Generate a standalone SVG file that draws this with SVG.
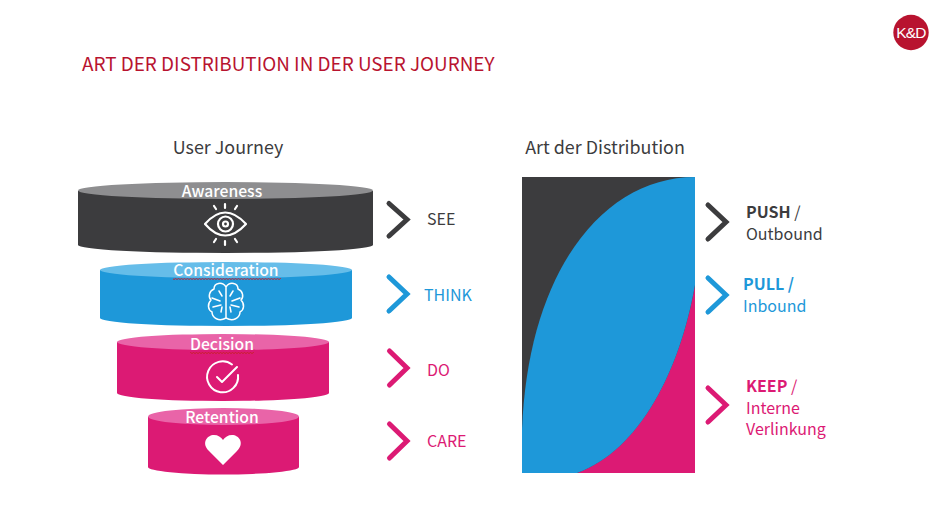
<svg xmlns="http://www.w3.org/2000/svg" width="944" height="525" viewBox="0 0 944 525">
<style>
text{font-family:"Noto Sans CJK SC","Noto Sans",sans-serif}
.t{font-size:18.9px}
.h{font-size:17.9px;fill:#3c3c3e}
.w{font-size:15.7px;fill:#fff;text-anchor:middle;font-weight:500}
.l{font-size:16px}
.b{font-weight:700}
.chev{fill:none;stroke-width:5;stroke-linecap:round;stroke-linejoin:miter}
.ic{fill:none;stroke:#fff;stroke-linecap:round;stroke-linejoin:round}
.dk{fill:#3c3c3e}.bl{fill:#1e98d9}.pk{fill:#dc1a74}
.sdk{stroke:#3c3c3e}.sbl{stroke:#1e98d9}.spk{stroke:#dc1a74}
</style>
<defs><pattern id="squiggle" patternUnits="userSpaceOnUse" width="3" height="2"><path d="M0 1.500L1.500 .5L3 1.500" fill="none" stroke="#c8202a" stroke-width="1"/></pattern></defs>
<rect width="944" height="525" fill="#fff"/>
<g id="logo"><circle cx="911" cy="32.500" r="17.700" fill="#b8132f"/><text x="911" y="38" font-size="15.500" letter-spacing="-.8" fill="#fff" text-anchor="middle" style="font-family:'Liberation Sans',sans-serif">K&amp;D</text></g>
<text id="title" x="82" y="71" class="t" fill="#b8132f">ART DER DISTRIBUTION IN DER USER JOURNEY</text>
<text x="228" y="154" class="h" text-anchor="middle">User Journey</text>
<text x="605" y="154" class="h" text-anchor="middle">Art der Distribution</text>
<g id="awareness">
<path class="dk" d="M78 191V245A147.500 8 0 0 0 373 245V191Z"/>
<ellipse cx="225.500" cy="190.500" rx="147.500" ry="8.500" fill="#8e8e90"/>
<text x="222" y="197" class="w">Awareness</text>
<g class="ic" stroke-width="2.200"><path d="M205 224Q225 201 246 224Q225 247 205 224Z"/><circle cx="225.500" cy="224" r="7.500"/><circle cx="225.500" cy="224" r="2.500"/><path d="M225 204V208M214 206L216 209M237 206L235 209M225 241V245M214 242L216 239M237 242L235 239"/></g>
</g>
<g id="consideration">
<path class="bl" d="M100 270V318A126 8 0 0 0 352 318V270Z"/>
<ellipse cx="226" cy="270" rx="126" ry="8" fill="#66bde9"/>
<text x="226" y="276" class="w">Consideration</text>
<rect x="173" y="278" width="108" height="2" fill="url(#squiggle)"/>
<g class="ic" stroke-width="1.500"><path d="M226 287C222 281 214 283 214 289C209 291 208 297 211 300C207 304 208 310 212 312C212 318 219 322 226 318C233 322 240 318 240 312C244 310 245 304 241 300C244 297 243 291 238 289C238 283 230 281 226 287V318"/><path d="M212 298L220 301M240 298L232 301M213 307L221 305M239 307L231 305M219 291L222 296M233 291L230 296M221 312L222 307M231 312L230 307"/></g>
</g>
<g id="decision">
<path class="pk" d="M117 342V393A106 8 0 0 0 329 393V342Z"/>
<ellipse cx="223" cy="342" rx="106" ry="8" fill="#e964a8"/>
<text x="222" y="350" class="w">Decision</text>
<rect x="190" y="352" width="64" height="2" fill="url(#squiggle)"/>
<g class="ic" stroke-width="2"><path d="M232 364.500A15.500 15.500 0 1 0 238 375"/><path d="M217 377L222 382L237 367"/></g>
</g>
<g id="retention">
<path class="pk" d="M148 417V467A75.500 7.500 0 0 0 299 467V417Z"/>
<ellipse cx="223.500" cy="416.500" rx="75.500" ry="8.500" fill="#e964a8"/>
<text x="222" y="423" class="w">Retention</text>
<path fill="#fff" d="M223 465L209 451C201 443 207 435 214 435C218 435 221 437 223 440C225 437 228 435 232 435C239 435 245 443 237 451Z"/>
</g>
<g id="connectors">
<path class="chev sdk" d="M389 203.500L407 219.500L389 236"/>
<path class="chev sbl" d="M389 277L407 294L389 311"/>
<path class="chev spk" d="M389.500 351L407 368L389.500 385"/>
<path class="chev spk" d="M389.500 424L407 441L389.500 458"/>
<path class="chev sdk" d="M708 205L726 222L708 239"/>
<path class="chev sbl" d="M708 278L726 295L708 312"/>
<path class="chev spk" d="M708 388L726 405L708 422"/>
</g>
<g id="labels" class="l">
<text x="427" y="225" class="dk">SEE</text>
<text x="424" y="301" class="bl">THINK</text>
<text x="427" y="376" class="pk">DO</text>
<text x="427" y="447" class="pk">CARE</text>
<text x="746" y="218" class="dk"><tspan class="b">PUSH</tspan> /</text>
<text x="746" y="240" class="dk">Outbound</text>
<text x="743" y="290" class="bl b">PULL /</text>
<text x="743" y="312" class="bl">Inbound</text>
<text x="746" y="392" class="pk"><tspan class="b">KEEP</tspan> /</text>
<text x="746" y="414" class="pk">Interne</text>
<text x="746" y="435" class="pk">Verlinkung</text>
</g>
<g id="distribution">
<rect x="522" y="177" width="173" height="296" class="dk"/>
<path class="pk" d="M577 473C640 450 680 370 695 285V473Z"/>
<path class="bl" d="M522 473V430C528 270 604 177 695 177V285C680 370 640 450 577 473Z"/>
</g>
</svg>
